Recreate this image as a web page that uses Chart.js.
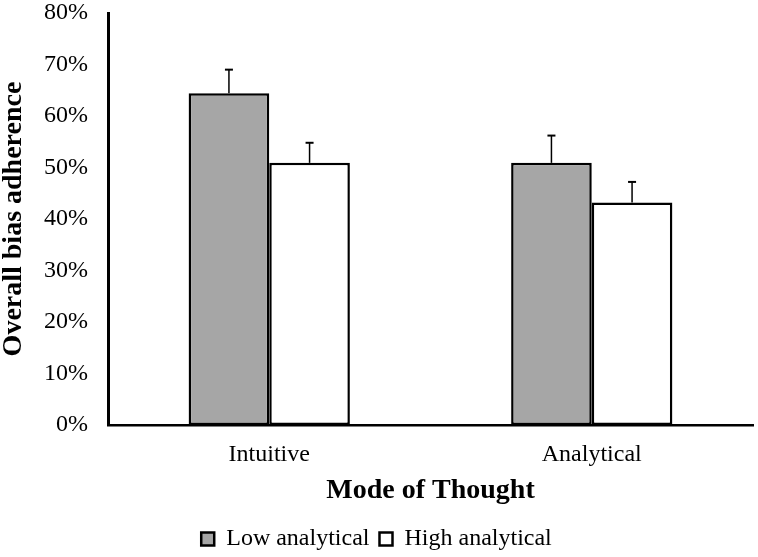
<!DOCTYPE html>
<html>
<head>
<meta charset="utf-8">
<script src="https://cdn.jsdelivr.net/npm/chart.js@4.4.1/dist/chart.umd.min.js"></script>
<style>
  html, body { margin: 0; padding: 0; background: #fff; }
  #wrap { width: 758px; height: 557px; }
</style>
</head>
<body>
<div id="wrap"><canvas id="chart" width="758" height="557"></canvas></div>
<script>
const categories = ['Intuitive', 'Analytical'];
const lowAnalytical = [64.4, 50.9];
const highAnalytical = [50.9, 43.2];
const lowErr = [4.6, 5.3];
const highErr = [3.9, 4.0];
const yTicks = [0, 10, 20, 30, 40, 50, 60, 70, 80];

Chart.defaults.font.family = '"Liberation Serif", "Times New Roman", serif';
Chart.defaults.color = '#000';

// upper-only error bars with a small cap
const errorBars = {
  id: 'errorBars',
  afterDatasetsDraw(chart) {
    const ctx = chart.ctx;
    const y = chart.scales.y;
    chart.data.datasets.forEach((ds, i) => {
      const meta = chart.getDatasetMeta(i);
      meta.data.forEach((bar, j) => {
        const top = y.getPixelForValue(ds.data[j] + ds.errors[j]);
        ctx.save();
        ctx.strokeStyle = '#000';
        ctx.lineWidth = 1.5;
        ctx.beginPath();
        ctx.moveTo(bar.x, bar.y);
        ctx.lineTo(bar.x, top);
        ctx.stroke();
        ctx.lineWidth = 2;
        ctx.beginPath();
        ctx.moveTo(bar.x - 4, top);
        ctx.lineTo(bar.x + 4, top);
        ctx.stroke();
        ctx.restore();
      });
    });
  }
};

new Chart(document.getElementById('chart'), {
  type: 'bar',
  data: {
    labels: categories,
    datasets: [
      {
        label: 'Low analytical',
        data: lowAnalytical,
        errors: lowErr,
        backgroundColor: '#a6a6a6',
        borderColor: '#000',
        borderWidth: 2.5,
        borderSkipped: false,
      },
      {
        label: 'High analytical',
        data: highAnalytical,
        errors: highErr,
        backgroundColor: '#fff',
        borderColor: '#000',
        borderWidth: 2.5,
        borderSkipped: false,
      },
    ],
  },
  options: {
    responsive: false,
    animation: false,
    devicePixelRatio: 1,
    categoryPercentage: 0.5,
    barPercentage: 1,
    layout: { padding: { left: 0, right: 5, top: 13, bottom: -4 } },
    plugins: {
      tooltip: { enabled: false },
      legend: {
        position: 'bottom',
        labels: {
          boxWidth: 13,
          boxHeight: 13,
          padding: 10,
          color: '#000',
          font: { size: 24 },
        },
      },
    },
    scales: {
      x: {
        grid: { display: false, drawTicks: false },
        border: { display: true, color: '#000', width: 2.5 },
        ticks: { padding: 15, font: { size: 24 }, color: '#000' },
        title: {
          display: true,
          text: 'Mode of Thought',
          font: { size: 28, weight: 'bold', lineHeight: 1 },
          padding: { top: 0, bottom: 12 },
          color: '#000',
        },
        afterFit: (s) => { s.height = 92; },
      },
      y: {
        min: 0,
        max: 80,
        afterBuildTicks: (s) => { s.ticks = yTicks.map(v => ({ value: v })); },
        grid: { display: false, drawTicks: false },
        border: { display: true, color: '#000', width: 3 },
        ticks: {
          padding: 20,
          font: { size: 24 },
          color: '#000',
          callback: (v) => v + '%',
        },
        title: {
          display: true,
          text: 'Overall bias adherence',
          font: { size: 28, weight: 'bold', lineHeight: 1 },
          padding: { top: 0, bottom: 0 },
          color: '#000',
        },
        afterFit: (s) => {
          s.width = 108;
          s.paddingTop = 0;
          s.paddingBottom = 0;
        },
      },
    },
  },
  plugins: [errorBars],
});
</script>
</body>
</html>
